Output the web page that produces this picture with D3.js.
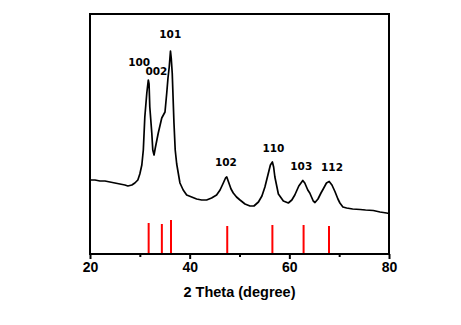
<!DOCTYPE html>
<html>
<head>
<meta charset="utf-8">
<script src="https://cdn.jsdelivr.net/npm/d3@7"></script>
<style>
  html, body { margin: 0; padding: 0; background: #fff; }
  svg { display: block; }
</style>
</head>
<body>
<svg id="chart" width="461" height="325"></svg>
<script>
// XRD pattern (2θ in degrees, intensity in arbitrary units)
const twoTheta = [
  20.0, 21.0, 22.0, 23.0, 24.0, 25.0, 26.0, 27.0, 27.6, 28.4, 29.0, 29.6,
  30.0, 30.4, 30.7, 31.0, 31.4, 31.7, 31.85, 32.0, 32.4, 32.6, 32.85, 33.1,
  33.7, 34.4, 35.05, 35.4, 35.65, 35.9, 36.15, 36.3, 36.5, 36.85, 37.1, 37.4,
  38.05, 38.7, 39.4, 40.4, 41.4, 42.4, 43.4, 44.4, 45.4, 46.1, 46.75, 47.2,
  47.45, 47.8, 48.3, 48.75, 49.4, 50.1, 51.1, 52.1, 52.9, 53.8, 54.5, 55.1,
  55.8, 56.2, 56.6, 56.85, 57.1, 57.8, 58.8, 59.8, 60.5, 61.1, 61.9, 62.7,
  63.1, 63.7, 64.1, 64.8, 65.15, 65.75, 66.35, 66.8, 67.45, 68.0, 68.55, 69.15,
  69.75, 70.15, 70.75, 71.5, 72.7, 74.2, 75.3, 76.85, 78.2, 79.5, 80.0
];
const intensity = [
  74, 74, 73, 73, 72, 71, 70, 69, 68, 69, 71, 74,
  80, 89, 104, 137, 161, 174, 170, 147, 121, 104, 99, 106,
  121, 136, 142, 161, 176, 187, 203, 196, 181, 131, 104, 90,
  71, 64, 59, 57, 55, 54, 54, 56, 59, 64, 71, 76,
  77, 72, 65, 61, 57, 54, 50, 48, 48, 52, 58, 67,
  81, 89, 92, 87, 77, 60, 53, 51, 54, 59, 68, 73.5,
  71, 64, 61, 53, 51.5, 55, 61, 65, 71, 72.5, 69, 62.5,
  55, 51, 47, 46, 45, 44.5, 44, 43.5, 42, 41, 40.5
];

// Reference pattern (ZnO, hexagonal wurtzite)
const hkl = ["100", "002", "101", "102", "110", "103", "112"];
const refPositions = [31.77, 34.42, 36.25, 47.54, 56.60, 62.86, 67.96];
const refIntensities = [31, 30, 34, 28, 29, 29, 28];

// Axis ticks
const majorTicks = [20, 40, 60, 80];
const minorTicks = [30, 50, 70];
const xTitle = "2 Theta (degree)";

// ---- layout ----
const margin = { left: 90, right: 72, top: 14, bottom: 71 };
const W = 461, H = 325;
const x0 = margin.left, x1 = W - margin.right;   // 90 .. 389
const y0 = H - margin.bottom, y1 = margin.top;   // 254 .. 14

const svg = d3.select("#chart");

const x = d3.scaleLinear().domain([20, 80]).range([x0, x1]);
const y = d3.scaleLinear().domain([0, 240]).range([y0, y1]);

// reference sticks
svg.append("g")
  .selectAll("line")
  .data(refPositions.map((p, i) => ({ p, v: refIntensities[i] })))
  .join("line")
  .attr("x1", d => x(d.p)).attr("x2", d => x(d.p))
  .attr("y1", y(0)).attr("y2", d => y(d.v))
  .attr("stroke", "#ff0000")
  .attr("stroke-width", 2);

// measured pattern
const pts = twoTheta.map((t, i) => [t, intensity[i]]);
svg.append("path")
  .datum(pts)
  .attr("fill", "none")
  .attr("stroke", "#000")
  .attr("stroke-width", 1.7)
  .attr("stroke-linejoin", "round")
  .attr("d", d3.line().x(d => x(d[0])).y(d => y(d[1])));

// peak labels (pixel offsets from each reflection, baseline y)
const labelDx = [-9.5, -5.5, -0.7, -1.4, 1, -2.3, 3];
const labelY = [66, 75, 38, 166, 152, 170, 171];
svg.append("g")
  .selectAll("text")
  .data(hkl)
  .join("text")
  .attr("x", (d, i) => x(refPositions[i]) + labelDx[i])
  .attr("y", (d, i) => labelY[i])
  .attr("text-anchor", "middle")
  .attr("font-family", "'DejaVu Sans', Verdana, sans-serif")
  .attr("font-weight", "bold")
  .attr("font-size", 10.5)
  .attr("fill", "#000")
  .text(d => d);

// x axis: major ticks with labels, minor ticks without
const axisMajor = d3.axisBottom(x).tickValues(majorTicks).tickSize(5).tickPadding(3).tickFormat(d3.format("d"));
const gMajor = svg.append("g").attr("transform", `translate(0,${y0})`).call(axisMajor);
gMajor.select(".domain").remove();
gMajor.selectAll(".tick line").attr("stroke", "#000").attr("stroke-width", 2);
gMajor.selectAll(".tick text")
  .attr("font-family", "'Liberation Sans', Arial, sans-serif")
  .attr("font-weight", "bold")
  .attr("font-size", 14)
  .attr("fill", "#000");

const axisMinor = d3.axisBottom(x).tickValues(minorTicks).tickSize(3).tickFormat("");
const gMinor = svg.append("g").attr("transform", `translate(0,${y0})`).call(axisMinor);
gMinor.select(".domain").remove();
gMinor.selectAll(".tick line").attr("stroke", "#000").attr("stroke-width", 2);

// frame
svg.append("rect")
  .attr("x", x0).attr("y", y1)
  .attr("width", x1 - x0).attr("height", y0 - y1)
  .attr("fill", "none")
  .attr("stroke", "#000")
  .attr("stroke-width", 2);

// axis title
svg.append("text")
  .attr("x", (x0 + x1) / 2)
  .attr("y", 297)
  .attr("text-anchor", "middle")
  .attr("font-family", "'Liberation Sans', Arial, sans-serif")
  .attr("font-weight", "bold")
  .attr("font-size", 14.5)
  .attr("fill", "#000")
  .text(xTitle);
</script>
</body>
</html>
